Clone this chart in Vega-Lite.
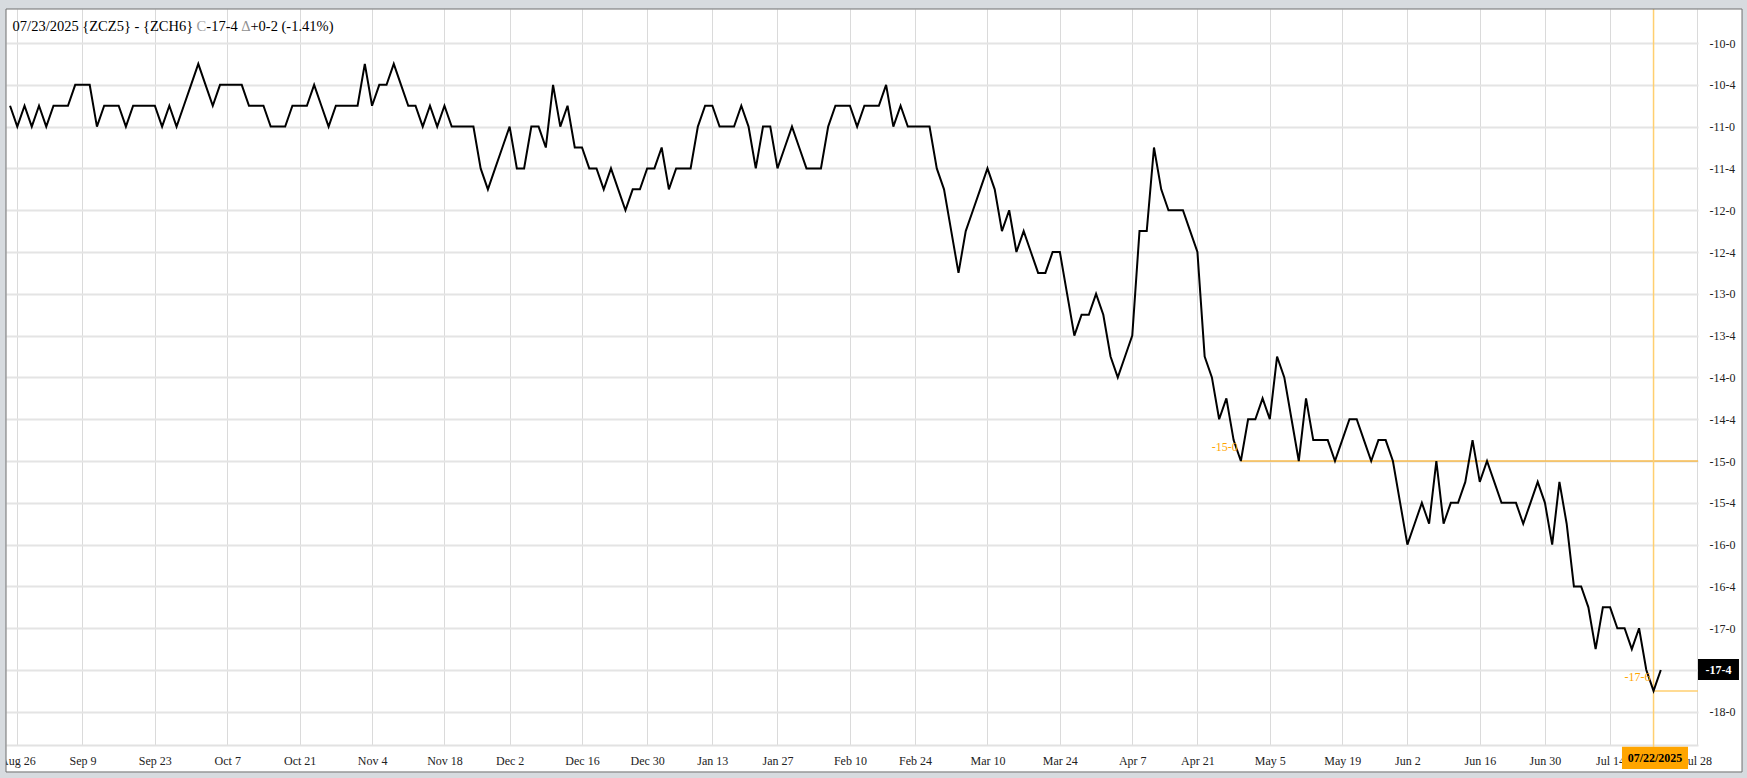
{
  "$schema": "https://vega.github.io/schema/vega-lite/v6.json",
  "width": 1692,
  "height": 736,
  "autosize": {"type": "none"},
  "padding": {"left": 6, "top": 9, "right": 49, "bottom": 33},
  "background": "#ffffff",
  "config": {"view": {"stroke": null}, "text": {"font": "Liberation Serif"}},
  "resolve": {"axis": {"x": "independent", "y": "independent"}},
  "data": {"values": [
    {"i":0,"v":-10.75},{"i":1,"v":-11},{"i":2,"v":-10.75},{"i":3,"v":-11},{"i":4,"v":-10.75},{"i":5,"v":-11},{"i":6,"v":-10.75},{"i":7,"v":-10.75},{"i":8,"v":-10.75},{"i":9,"v":-10.5},
    {"i":10,"v":-10.5},{"i":11,"v":-10.5},{"i":12,"v":-11},{"i":13,"v":-10.75},{"i":14,"v":-10.75},{"i":15,"v":-10.75},{"i":16,"v":-11},{"i":17,"v":-10.75},{"i":18,"v":-10.75},{"i":19,"v":-10.75},
    {"i":20,"v":-10.75},{"i":21,"v":-11},{"i":22,"v":-10.75},{"i":23,"v":-11},{"i":24,"v":-10.75},{"i":25,"v":-10.5},{"i":26,"v":-10.25},{"i":27,"v":-10.5},{"i":28,"v":-10.75},{"i":29,"v":-10.5},
    {"i":30,"v":-10.5},{"i":31,"v":-10.5},{"i":32,"v":-10.5},{"i":33,"v":-10.75},{"i":34,"v":-10.75},{"i":35,"v":-10.75},{"i":36,"v":-11},{"i":37,"v":-11},{"i":38,"v":-11},{"i":39,"v":-10.75},
    {"i":40,"v":-10.75},{"i":41,"v":-10.75},{"i":42,"v":-10.5},{"i":43,"v":-10.75},{"i":44,"v":-11},{"i":45,"v":-10.75},{"i":46,"v":-10.75},{"i":47,"v":-10.75},{"i":48,"v":-10.75},{"i":49,"v":-10.25},
    {"i":50,"v":-10.75},{"i":51,"v":-10.5},{"i":52,"v":-10.5},{"i":53,"v":-10.25},{"i":54,"v":-10.5},{"i":55,"v":-10.75},{"i":56,"v":-10.75},{"i":57,"v":-11},{"i":58,"v":-10.75},{"i":59,"v":-11},
    {"i":60,"v":-10.75},{"i":61,"v":-11},{"i":62,"v":-11},{"i":63,"v":-11},{"i":64,"v":-11},{"i":65,"v":-11.5},{"i":66,"v":-11.75},{"i":67,"v":-11.5},{"i":68,"v":-11.25},{"i":69,"v":-11},
    {"i":70,"v":-11.5},{"i":71,"v":-11.5},{"i":72,"v":-11},{"i":73,"v":-11},{"i":74,"v":-11.25},{"i":75,"v":-10.5},{"i":76,"v":-11},{"i":77,"v":-10.75},{"i":78,"v":-11.25},{"i":79,"v":-11.25},
    {"i":80,"v":-11.5},{"i":81,"v":-11.5},{"i":82,"v":-11.75},{"i":83,"v":-11.5},{"i":84,"v":-11.75},{"i":85,"v":-12},{"i":86,"v":-11.75},{"i":87,"v":-11.75},{"i":88,"v":-11.5},{"i":89,"v":-11.5},
    {"i":90,"v":-11.25},{"i":91,"v":-11.75},{"i":92,"v":-11.5},{"i":93,"v":-11.5},{"i":94,"v":-11.5},{"i":95,"v":-11},{"i":96,"v":-10.75},{"i":97,"v":-10.75},{"i":98,"v":-11},{"i":99,"v":-11},
    {"i":100,"v":-11},{"i":101,"v":-10.75},{"i":102,"v":-11},{"i":103,"v":-11.5},{"i":104,"v":-11},{"i":105,"v":-11},{"i":106,"v":-11.5},{"i":107,"v":-11.25},{"i":108,"v":-11},{"i":109,"v":-11.25},
    {"i":110,"v":-11.5},{"i":111,"v":-11.5},{"i":112,"v":-11.5},{"i":113,"v":-11},{"i":114,"v":-10.75},{"i":115,"v":-10.75},{"i":116,"v":-10.75},{"i":117,"v":-11},{"i":118,"v":-10.75},{"i":119,"v":-10.75},
    {"i":120,"v":-10.75},{"i":121,"v":-10.5},{"i":122,"v":-11},{"i":123,"v":-10.75},{"i":124,"v":-11},{"i":125,"v":-11},{"i":126,"v":-11},{"i":127,"v":-11},{"i":128,"v":-11.5},{"i":129,"v":-11.75},
    {"i":130,"v":-12.25},{"i":131,"v":-12.75},{"i":132,"v":-12.25},{"i":133,"v":-12},{"i":134,"v":-11.75},{"i":135,"v":-11.5},{"i":136,"v":-11.75},{"i":137,"v":-12.25},{"i":138,"v":-12},{"i":139,"v":-12.5},
    {"i":140,"v":-12.25},{"i":141,"v":-12.5},{"i":142,"v":-12.75},{"i":143,"v":-12.75},{"i":144,"v":-12.5},{"i":145,"v":-12.5},{"i":146,"v":-13},{"i":147,"v":-13.5},{"i":148,"v":-13.25},{"i":149,"v":-13.25},
    {"i":150,"v":-13},{"i":151,"v":-13.25},{"i":152,"v":-13.75},{"i":153,"v":-14},{"i":154,"v":-13.75},{"i":155,"v":-13.5},{"i":156,"v":-12.25},{"i":157,"v":-12.25},{"i":158,"v":-11.25},{"i":159,"v":-11.75},
    {"i":160,"v":-12},{"i":161,"v":-12},{"i":162,"v":-12},{"i":163,"v":-12.25},{"i":164,"v":-12.5},{"i":165,"v":-13.75},{"i":166,"v":-14},{"i":167,"v":-14.5},{"i":168,"v":-14.25},{"i":169,"v":-14.75},
    {"i":170,"v":-15},{"i":171,"v":-14.5},{"i":172,"v":-14.5},{"i":173,"v":-14.25},{"i":174,"v":-14.5},{"i":175,"v":-13.75},{"i":176,"v":-14},{"i":177,"v":-14.5},{"i":178,"v":-15},{"i":179,"v":-14.25},
    {"i":180,"v":-14.75},{"i":181,"v":-14.75},{"i":182,"v":-14.75},{"i":183,"v":-15},{"i":184,"v":-14.75},{"i":185,"v":-14.5},{"i":186,"v":-14.5},{"i":187,"v":-14.75},{"i":188,"v":-15},{"i":189,"v":-14.75},
    {"i":190,"v":-14.75},{"i":191,"v":-15},{"i":192,"v":-15.5},{"i":193,"v":-16},{"i":194,"v":-15.75},{"i":195,"v":-15.5},{"i":196,"v":-15.75},{"i":197,"v":-15},{"i":198,"v":-15.75},{"i":199,"v":-15.5},
    {"i":200,"v":-15.5},{"i":201,"v":-15.25},{"i":202,"v":-14.75},{"i":203,"v":-15.25},{"i":204,"v":-15},{"i":205,"v":-15.25},{"i":206,"v":-15.5},{"i":207,"v":-15.5},{"i":208,"v":-15.5},{"i":209,"v":-15.75},
    {"i":210,"v":-15.5},{"i":211,"v":-15.25},{"i":212,"v":-15.5},{"i":213,"v":-16},{"i":214,"v":-15.25},{"i":215,"v":-15.75},{"i":216,"v":-16.5},{"i":217,"v":-16.5},{"i":218,"v":-16.75},{"i":219,"v":-17.25},
    {"i":220,"v":-16.75},{"i":221,"v":-16.75},{"i":222,"v":-17},{"i":223,"v":-17},{"i":224,"v":-17.25},{"i":225,"v":-17},{"i":226,"v":-17.5},{"i":227,"v":-17.75},{"i":228,"v":-17.5}
  ]},
  "layer": [
    {
      "mark": {"type": "line", "color": "#000000", "strokeWidth": 2, "opacity": 0},
      "encoding": {
        "x": {
          "field": "i", "type": "quantitative",
          "scale": {"domain": [-0.56, 233.14], "nice": false, "zero": false},
          "axis": {
            "orient": "bottom", "title": null,
            "values": [1,10,20,30,40,50,60,69,79,88,97,106,116,125,135,145,155,164,174,184,193,203,212,221,233],
            "labelExpr": "['Aug 26','Sep 9','Sep 23','Oct 7','Oct 21','Nov 4','Nov 18','Dec 2','Dec 16','Dec 30','Jan 13','Jan 27','Feb 10','Feb 24','Mar 10','Mar 24','Apr 7','Apr 21','May 5','May 19','Jun 2','Jun 16','Jun 30','Jul 14','Jul 28'][indexof([1,10,20,30,40,50,60,69,79,88,97,106,116,125,135,145,155,164,174,184,193,203,212,221,233], datum.value)]",
            "domain": true, "domainColor": "#e2e2e2", "domainWidth": 2,
            "ticks": false, "tickSize": 0, "labelPadding": 10,
            "labelFont": "Liberation Serif", "labelFontSize": 12, "labelColor": "#222222",
            "labelFlush": false, "labelOverlap": false, "labelBound": false,
            "grid": true, "gridColor": "#dadada", "gridWidth": 1
          }
        },
        "y": {
          "field": "v", "type": "quantitative",
          "scale": {"domain": [-18.397, -9.593], "nice": false, "zero": false},
          "axis": {
            "orient": "right", "title": null,
            "values": [-10,-10.5,-11,-11.5,-12,-12.5,-13,-13.5,-14,-14.5,-15,-15.5,-16,-16.5,-17,-17.5,-18],
            "labelExpr": "datum.value == -17.5 ? '' : '-' + floor(abs(datum.value)) + '-' + round((abs(datum.value) - floor(abs(datum.value))) * 8)",
            "domain": false, "ticks": false, "tickSize": 0, "labelPadding": 11,
            "labelAlign": "left", "labelBaseline": "middle",
            "labelFont": "Liberation Serif", "labelFontSize": 12, "labelColor": "#222222",
            "grid": true, "gridColor": "#e4e4e4", "gridWidth": 2
          }
        }
      }
    },
    {
      "data": {"values": [{}]},
      "mark": {"type": "rule", "color": "#FFA500", "strokeWidth": 1},
      "encoding": {
        "x": {"datum": 170, "type": "quantitative", "axis": null},
        "x2": {"datum": 233.14},
        "y": {"datum": -15, "type": "quantitative", "axis": null}
      }
    },
    {
      "data": {"values": [{}]},
      "mark": {"type": "rule", "color": "#FFCF70", "strokeWidth": 1.5},
      "encoding": {
        "x": {"datum": 227, "type": "quantitative", "axis": null},
        "x2": {"datum": 233.14},
        "y": {"datum": -17.75, "type": "quantitative", "axis": null}
      }
    },
    {
      "data": {"values": [{}]},
      "mark": {"type": "rule", "color": "#FFCF70", "strokeWidth": 1.5},
      "encoding": {
        "x": {"datum": 227, "type": "quantitative", "axis": null},
        "y": {"datum": -9.593, "type": "quantitative", "axis": null},
        "y2": {"datum": -18.417}
      }
    },
    {
      "mark": {"type": "line", "color": "#000000", "strokeWidth": 2},
      "encoding": {
        "x": {"field": "i", "type": "quantitative", "axis": null},
        "y": {"field": "v", "type": "quantitative", "axis": null}
      }
    },
    {
      "data": {"values": [{}]},
      "mark": {"type": "text", "text": "-15-0", "color": "#FFA500", "fontSize": 12, "align": "right", "baseline": "middle", "dx": -3, "dy": -14},
      "encoding": {
        "x": {"datum": 170, "type": "quantitative", "axis": null},
        "y": {"datum": -15, "type": "quantitative", "axis": null}
      }
    },
    {
      "data": {"values": [{}]},
      "mark": {"type": "text", "text": "-17-6", "color": "#FFA500", "fontSize": 12, "align": "right", "baseline": "middle", "dx": -3, "dy": -14},
      "encoding": {
        "x": {"datum": 227, "type": "quantitative", "axis": null},
        "y": {"datum": -17.75, "type": "quantitative", "axis": null}
      }
    },
    {
      "data": {"values": [{}]},
      "mark": {"type": "rect", "color": "#FFA500"},
      "encoding": {
        "x": {"datum": 222.64, "type": "quantitative", "axis": null},
        "x2": {"datum": 231.76},
        "y": {"datum": -18.417, "type": "quantitative", "axis": null},
        "y2": {"datum": -18.684}
      }
    },
    {
      "data": {"values": [{}]},
      "mark": {"type": "text", "text": "07/22/2025", "color": "#000000", "fontSize": 12, "fontWeight": "bold", "align": "center", "baseline": "middle"},
      "encoding": {
        "x": {"datum": 227.2, "type": "quantitative", "axis": null},
        "y": {"datum": -18.55, "type": "quantitative", "axis": null}
      }
    },
    {
      "data": {"values": [{}]},
      "mark": {"type": "rect", "color": "#000000"},
      "encoding": {
        "x": {"datum": 233.14, "type": "quantitative", "axis": null},
        "x2": {"datum": 238.8},
        "y": {"datum": -17.368, "type": "quantitative", "axis": null},
        "y2": {"datum": -17.619}
      }
    },
    {
      "data": {"values": [{}]},
      "mark": {"type": "text", "text": "-17-4", "color": "#ffffff", "fontSize": 12, "fontWeight": "bold", "align": "center", "baseline": "middle"},
      "encoding": {
        "x": {"datum": 235.97, "type": "quantitative", "axis": null},
        "y": {"datum": -17.5, "type": "quantitative", "axis": null}
      }
    },
    {
      "data": {"values": [{}]},
      "mark": {"type": "text", "text": "07/23/2025 {ZCZ5} - {ZCH6}", "color": "#000000", "fontSize": 14.5, "align": "left", "baseline": "alphabetic", "dx": 6.6, "dy": 22},
      "encoding": {
        "x": {"datum": -0.56, "type": "quantitative", "axis": null},
        "y": {"datum": -9.593, "type": "quantitative", "axis": null}
      }
    },
    {
      "data": {"values": [{}]},
      "mark": {"type": "text", "text": "C", "color": "#a0a0a0", "fontSize": 14.5, "align": "left", "baseline": "alphabetic", "dx": 190.6, "dy": 22},
      "encoding": {
        "x": {"datum": -0.56, "type": "quantitative", "axis": null},
        "y": {"datum": -9.593, "type": "quantitative", "axis": null}
      }
    },
    {
      "data": {"values": [{}]},
      "mark": {"type": "text", "text": "-17-4", "color": "#000000", "fontSize": 14.5, "align": "left", "baseline": "alphabetic", "dx": 200.3, "dy": 22},
      "encoding": {
        "x": {"datum": -0.56, "type": "quantitative", "axis": null},
        "y": {"datum": -9.593, "type": "quantitative", "axis": null}
      }
    },
    {
      "data": {"values": [{}]},
      "mark": {"type": "text", "text": "Δ", "color": "#909090", "fontSize": 14.5, "align": "left", "baseline": "alphabetic", "dx": 235.3, "dy": 22},
      "encoding": {
        "x": {"datum": -0.56, "type": "quantitative", "axis": null},
        "y": {"datum": -9.593, "type": "quantitative", "axis": null}
      }
    },
    {
      "data": {"values": [{}]},
      "mark": {"type": "text", "text": "+0-2 (-1.41%)", "color": "#000000", "fontSize": 14.5, "align": "left", "baseline": "alphabetic", "dx": 244.4, "dy": 22},
      "encoding": {
        "x": {"datum": -0.56, "type": "quantitative", "axis": null},
        "y": {"datum": -9.593, "type": "quantitative", "axis": null}
      }
    },
    {
      "data": {"values": [{}]},
      "mark": {"type": "rect", "fill": null, "fillOpacity": 0, "stroke": "#d7dbdf", "strokeWidth": 18},
      "encoding": {
        "x": {"datum": -1.803, "type": "quantitative", "axis": null},
        "x2": {"datum": 240.46},
        "y": {"datum": -9.4853, "type": "quantitative", "axis": null},
        "y2": {"datum": -18.8273}
      }
    },
    {
      "data": {"values": [{}]},
      "mark": {"type": "rect", "fill": null, "fillOpacity": 0, "stroke": "#6e6e6e", "strokeWidth": 1},
      "encoding": {
        "x": {"datum": -0.56, "type": "quantitative", "axis": null},
        "x2": {"datum": 239.22},
        "y": {"datum": -9.593, "type": "quantitative", "axis": null},
        "y2": {"datum": -18.7197}
      }
    }
  ]
}
